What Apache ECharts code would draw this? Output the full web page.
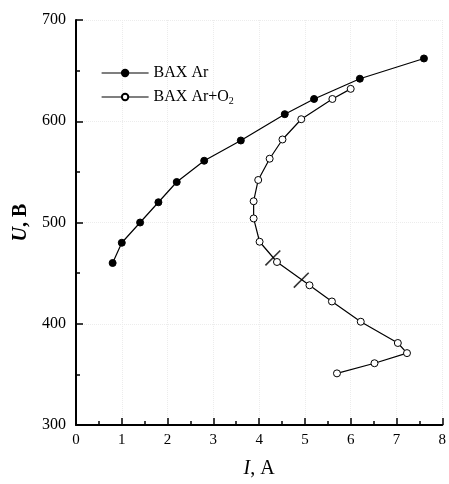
<!DOCTYPE html>
<html>
<head>
<meta charset="utf-8">
<script src="https://cdn.jsdelivr.net/npm/echarts@6/dist/echarts.min.js"></script>
<style>
  html, body { margin: 0; padding: 0; background: #fff; }
  #main { width: 449px; height: 484px; }
</style>
</head>
<body>
<div id="main"></div>
<script>
// BAX Ar (filled markers)
var arI = [0.8, 1.0, 1.4, 1.8, 2.2, 2.8, 3.6, 4.56, 5.2, 6.2, 7.6];
var arU = [460, 480, 500, 520, 540, 561, 581, 607, 622, 642, 662];
// BAX Ar+O2 (open markers), in measurement order
var mixI = [6.0, 5.6, 4.92, 4.51, 4.23, 3.98, 3.88, 3.88, 4.01, 4.39, 5.1, 5.59, 6.22, 7.03, 7.23, 6.52, 5.7];
var mixU = [632, 622, 602, 582, 563, 542, 521, 504, 481, 461, 438, 422, 402, 381, 371, 361, 351];
// cross marks on the Ar+O2 curve
var crossI = [4.3, 4.92];
var crossU = [465, 443];

var font = 'Liberation Serif';

function pairs(xs, ys) {
  return xs.map(function(x, i) { return [x, ys[i]]; });
}

var chart = echarts.init(document.getElementById('main'));
chart.setOption({
  animation: false,
  backgroundColor: '#fff',
  grid: { left: 76, right: 3, top: 20, bottom: 52 },
  legend: {
    orient: 'vertical',
    left: 96,
    top: 60,
    itemWidth: 47,
    itemHeight: 8,
    itemGap: 8,
    data: ['BAX Ar', 'BAX Ar+O2'],
    lineStyle: { width: 1.2 },
    formatter: function(name) {
      return name === 'BAX Ar+O2' ? 'BAX Ar+O{sub|2}' : name;
    },
    textStyle: {
      fontFamily: font,
      fontSize: 16,
      color: '#000',
      rich: {
        sub: { fontFamily: font, fontSize: 10, verticalAlign: 'bottom', padding: [8, 0, 0, 0] }
      }
    }
  },
  xAxis: {
    type: 'value',
    min: 0,
    max: 8,
    interval: 1,
    name: '{i|I}, A',
    nameLocation: 'middle',
    nameGap: 34,
    nameTextStyle: {
      fontFamily: font, fontSize: 20, color: '#000',
      rich: { i: { fontFamily: font, fontSize: 20, fontStyle: 'italic', color: '#000' } }
    },
    axisLine: { lineStyle: { color: '#000', width: 2 } },
    axisTick: { inside: true, length: 7, lineStyle: { color: '#000', width: 1.5 } },
    minorTick: { show: true, splitNumber: 2, length: 4, lineStyle: { color: '#000', width: 1.5 } },
    axisLabel: { fontFamily: font, fontSize: 15, color: '#000', margin: 8 },
    splitLine: { show: true, lineStyle: { color: '#ececec', type: 'dotted', width: 1 } }
  },
  yAxis: {
    type: 'value',
    min: 300,
    max: 700,
    interval: 100,
    name: '{i|U}, B',
    nameLocation: 'middle',
    nameRotate: 90,
    nameGap: 38,
    nameTextStyle: {
      fontFamily: font, fontSize: 20, fontWeight: 'bold', color: '#000',
      rich: { i: { fontFamily: font, fontSize: 20, fontStyle: 'italic', fontWeight: 'bold', color: '#000' } }
    },
    axisLine: { show: true, lineStyle: { color: '#000', width: 2 } },
    axisTick: { show: true, inside: true, length: 7, lineStyle: { color: '#000', width: 1.5 } },
    minorTick: { show: true, splitNumber: 2, length: 4, lineStyle: { color: '#000', width: 1.5 } },
    axisLabel: { fontFamily: font, fontSize: 16, color: '#000', margin: 10 },
    splitLine: { show: true, lineStyle: { color: '#ececec', type: 'dotted', width: 1 } }
  },
  series: [
    {
      name: 'BAX Ar',
      type: 'line',
      data: pairs(arI, arU),
      symbol: 'circle',
      symbolSize: 7,
      lineStyle: { color: '#000', width: 1.2 },
      itemStyle: { color: '#000', borderColor: '#000', borderWidth: 1 }
    },
    {
      name: 'BAX Ar+O2',
      type: 'line',
      data: pairs(mixI, mixU),
      symbol: 'circle',
      symbolSize: 7,
      lineStyle: { color: '#000', width: 1.2 },
      itemStyle: { color: '#fff', borderColor: '#000', borderWidth: 1 }
    },
    {
      name: 'cross',
      type: 'scatter',
      data: pairs(crossI, crossU),
      symbol: 'rect',
      symbolSize: [1.6, 21],
      symbolRotate: -45,
      itemStyle: { color: '#000' },
      silent: true
    }
  ]
});
</script>
</body>
</html>
